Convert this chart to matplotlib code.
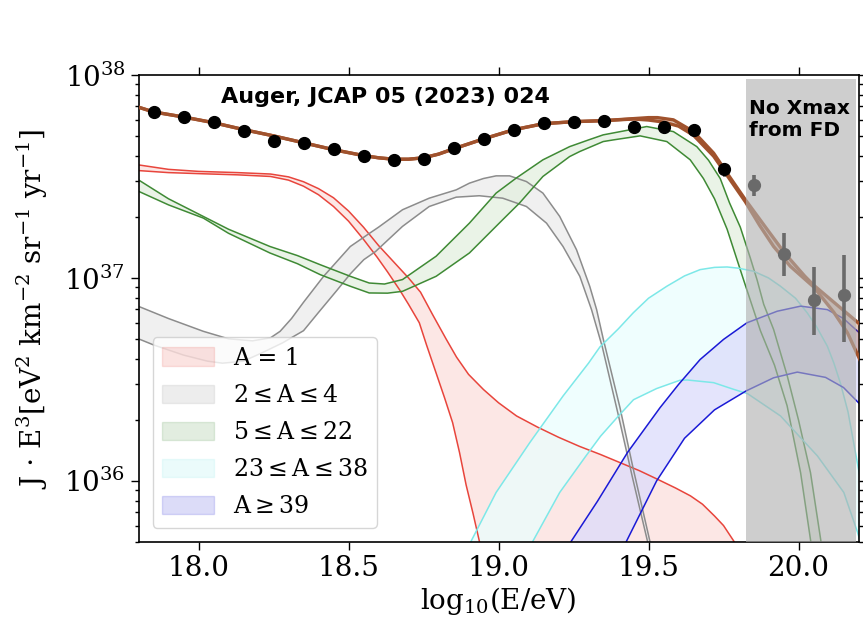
import numpy as np
import matplotlib
matplotlib.use("Agg")
import matplotlib.pyplot as plt
from matplotlib.patches import Patch

plt.rcParams["font.family"] = "DejaVu Serif"
plt.rcParams["mathtext.fontset"] = "dejavuserif"

# ---------------- measured spectrum (log10 of J*E^3) ----------------
lgE_fd = [17.85, 17.95, 18.05, 18.15, 18.25, 18.35, 18.45, 18.55, 18.65, 18.75,
          18.85, 18.95, 19.05, 19.15, 19.25, 19.35, 19.45, 19.55, 19.65, 19.75]
lgJ_fd = [37.816, 37.793, 37.767, 37.726, 37.677, 37.667, 37.634, 37.603, 37.583, 37.585,
          37.638, 37.684, 37.728, 37.764, 37.766, 37.774, 37.744, 37.744, 37.728, 37.539]
lgJ_fd_lo = [37.810, 37.787, 37.761, 37.720, 37.671, 37.660, 37.627, 37.596, 37.576, 37.577,
             37.630, 37.676, 37.720, 37.755, 37.756, 37.763, 37.731, 37.729, 37.710, 37.503]
lgJ_fd_hi = [37.822, 37.799, 37.773, 37.732, 37.683, 37.674, 37.641, 37.610, 37.590, 37.593,
             37.646, 37.692, 37.736, 37.773, 37.776, 37.785, 37.757, 37.759, 37.746, 37.561]

lgE_noxmax = [19.85, 19.95, 20.05, 20.15]
lgJ_noxmax = [37.456, 37.118, 36.892, 36.914]
lgJ_noxmax_lo = [37.406, 37.011, 36.720, 36.683]
lgJ_noxmax_hi = [37.505, 37.219, 37.052, 37.115]

# ---------------- model bands: (x, upper edge) / (x, lower edge) ----------------
p_hi_x = [17.80, 17.90, 18.00, 18.13, 18.24, 18.30, 18.35, 18.40, 18.45, 18.50, 18.55, 18.60, 18.65,
          18.70, 18.74, 18.78, 18.825, 18.86, 18.90, 18.95, 19.00, 19.06, 19.13, 19.20, 19.27,
          19.34, 19.405, 19.47, 19.53, 19.59, 19.64, 19.68, 19.72, 19.75, 19.784, 19.81]
p_hi_y = [37.557, 37.535, 37.525, 37.519, 37.512, 37.498, 37.474, 37.44, 37.395, 37.33, 37.25, 37.16, 37.08,
          37.00, 36.93, 36.82, 36.70, 36.61, 36.525, 36.45, 36.385, 36.32, 36.265, 36.215, 36.17,
          36.13, 36.09, 36.05, 36.008, 35.965, 35.926, 35.885, 35.827, 35.78, 35.704, 35.62]
p_lo_x = [17.80, 17.90, 18.02, 18.13, 18.24, 18.30, 18.35, 18.40, 18.45, 18.50, 18.55, 18.595, 18.63,
          18.67, 18.70, 18.736, 18.76, 18.79, 18.82, 18.847, 18.87, 18.892, 18.915, 18.936, 18.96]
p_lo_y = [37.529, 37.519, 37.513, 37.508, 37.50, 37.482, 37.452, 37.41, 37.352, 37.28, 37.19, 37.103, 37.03,
          36.942, 36.87, 36.779, 36.67, 36.54, 36.41, 36.287, 36.14, 35.98, 35.84, 35.704, 35.55]

he_hi_x = [17.80, 17.90, 18.016, 18.10, 18.18, 18.24, 18.272, 18.31, 18.35, 18.417, 18.506, 18.57, 18.60,
           18.68, 18.769, 18.859, 18.903, 18.95, 18.992, 19.037, 19.093, 19.148, 19.204, 19.26,
           19.304, 19.327, 19.349, 19.405, 19.449, 19.505, 19.53]
he_hi_y = [36.86, 36.80, 36.737, 36.70, 36.69, 36.705, 36.737, 36.80, 36.88, 37.008, 37.155, 37.22, 37.25,
           37.336, 37.393, 37.434, 37.467, 37.49, 37.503, 37.503, 37.475, 37.418, 37.303, 37.139,
           36.959, 36.844, 36.70, 36.36, 36.06, 35.70, 35.55]
he_lo_x = [17.80, 17.85, 17.95, 18.03, 18.08, 18.15, 18.21, 18.28, 18.35, 18.40, 18.462, 18.506,
           18.551, 18.59, 18.68, 18.769, 18.859, 18.936, 19.014, 19.093, 19.16, 19.215, 19.271,
           19.31, 19.346, 19.40, 19.446, 19.497, 19.52]
he_lo_y = [36.70, 36.67, 36.62, 36.59, 36.58, 36.59, 36.63, 36.68, 36.74, 36.83, 36.94, 37.02,
           37.09, 37.13, 37.254, 37.352, 37.398, 37.405, 37.393, 37.352, 37.27, 37.155, 37.008,
           36.844, 36.66, 36.32, 36.02, 35.70, 35.55]

cno_hi_x = [17.80, 17.90, 18.016, 18.10, 18.238, 18.33, 18.406, 18.506, 18.569, 18.62, 18.68, 18.792,
            18.903, 18.992, 19.059, 19.148, 19.237, 19.30, 19.349, 19.438, 19.494, 19.583, 19.661,
            19.70, 19.739, 19.77, 19.806, 19.839, 19.862, 19.884, 19.917, 19.962, 20.00, 20.04,
            20.074, 20.09]
cno_hi_y = [37.483, 37.39, 37.303, 37.24, 37.155, 37.11, 37.065, 37.008, 36.975, 36.97, 36.992, 37.107,
            37.27, 37.418, 37.492, 37.582, 37.647, 37.68, 37.705, 37.73, 37.746, 37.721, 37.647,
            37.58, 37.49, 37.37, 37.25, 37.10, 36.99, 36.87, 36.746, 36.52, 36.30, 36.04,
            35.71, 35.55]
cno_lo_x = [17.80, 17.90, 18.016, 18.10, 18.238, 18.33, 18.406, 18.506, 18.569, 18.63, 18.68, 18.792,
            18.903, 19.014, 19.07, 19.148, 19.237, 19.271, 19.349, 19.382, 19.472, 19.561, 19.639,
            19.683, 19.72, 19.762, 19.817, 19.873, 19.92, 19.962, 20.007, 20.04, 20.055]
cno_lo_y = [37.427, 37.36, 37.295, 37.22, 37.123, 37.07, 37.016, 36.959, 36.926, 36.925, 36.934, 37.008,
            37.123, 37.287, 37.369, 37.50, 37.598, 37.623, 37.672, 37.68, 37.70, 37.672, 37.582,
            37.49, 37.39, 37.24, 36.99, 36.74, 36.57, 36.37, 36.04, 35.71, 35.55]

si_hi_x = [18.88, 18.909, 18.992, 19.104, 19.215, 19.30, 19.338, 19.40, 19.449, 19.50, 19.561, 19.62,
           19.672, 19.72, 19.762, 19.80, 19.85, 19.90, 19.94, 19.99, 20.029, 20.06, 20.096, 20.118,
           20.14, 20.165, 20.196, 20.21]
si_hi_y = [35.60, 35.704, 35.943, 36.188, 36.418, 36.58, 36.66, 36.75, 36.828, 36.90, 36.959, 37.01,
           37.041, 37.052, 37.054, 37.048, 37.033, 37.00, 36.959, 36.90, 36.828, 36.76, 36.664, 36.58,
           36.48, 36.34, 36.09, 35.98]
si_lo_x = [19.09, 19.115, 19.204, 19.29, 19.34, 19.40, 19.45, 19.527, 19.605, 19.63, 19.717, 19.784,
           19.83, 19.94, 20.063, 20.151, 20.196, 20.21]
si_lo_y = [35.60, 35.704, 35.943, 36.12, 36.22, 36.32, 36.40, 36.455, 36.496, 36.497, 36.484, 36.451,
           36.43, 36.32, 36.123, 35.943, 35.75, 35.68]

fe_hi_x = [19.22, 19.243, 19.33, 19.43, 19.538, 19.60, 19.672, 19.717, 19.75, 19.828, 19.929, 20.007,
           20.096, 20.15, 20.21]
fe_hi_y = [35.65, 35.704, 35.90, 36.14, 36.36, 36.475, 36.598, 36.655, 36.697, 36.779, 36.836, 36.861,
           36.844, 36.80, 36.72]
fe_lo_x = [19.40, 19.427, 19.527, 19.62, 19.72, 19.825, 19.917, 19.996, 20.09, 20.15, 20.21]
fe_lo_y = [35.62, 35.704, 36.0, 36.21, 36.35, 36.443, 36.508, 36.536, 36.51, 36.46, 36.37]

tot_hi_x = [17.79, 17.85, 17.95, 18.05, 18.15, 18.25, 18.35, 18.45, 18.55, 18.60, 18.65, 18.70, 18.75,
            18.80, 18.85, 18.95, 19.05, 19.15, 19.25, 19.35, 19.45, 19.50, 19.53, 19.583, 19.65,
            19.717, 19.762, 19.823, 19.895, 19.955, 20.02, 20.05, 20.118, 20.21]
tot_hi_y = [37.846, 37.818, 37.793, 37.765, 37.731, 37.70, 37.666, 37.632, 37.603, 37.592, 37.585,
            37.585, 37.592, 37.61, 37.636, 37.685, 37.730, 37.760, 37.770, 37.775, 37.785, 37.79,
            37.79, 37.779, 37.721, 37.615, 37.516, 37.385, 37.24, 37.12, 37.01, 36.965, 36.88, 36.765]
tot_lo_x = [17.79, 17.85, 17.95, 18.05, 18.15, 18.25, 18.35, 18.45, 18.55, 18.60, 18.65, 18.70, 18.75,
            18.80, 18.85, 18.95, 19.05, 19.15, 19.25, 19.35, 19.45, 19.50, 19.55, 19.60, 19.65,
            19.717, 19.762, 19.823, 19.87, 19.917, 19.973, 20.051, 20.118, 20.163, 20.21]
tot_lo_y = [37.846, 37.818, 37.793, 37.765, 37.731, 37.70, 37.666, 37.632, 37.603, 37.592, 37.585,
            37.585, 37.592, 37.61, 37.636, 37.685, 37.730, 37.760, 37.770, 37.775, 37.783, 37.778,
            37.768, 37.748, 37.703, 37.60, 37.505, 37.375, 37.26, 37.155, 37.057, 36.955, 36.83,
            36.73, 36.58]

labels = [r"A = 1", r"2$\leq$A$\leq$4", r"5$\leq$A$\leq$22", r"23$\leq$A$\leq$38", r"A$\geq$39"]
line_colors = ["#e8453c", "#8c8c8c", "#3f8a35", "#7de8e8", "#1a1ad6"]
fill_colors = ["#fbe0dd", "#ececec", "#e3efdf", "#eafefe", "#dcdcfb"]

fd_limit = (19.825, 20.19)   # energies without Xmax from FD


def pw(v):
    return 10.0 ** np.asarray(v)


fig = plt.figure(figsize=(8.63, 6.27), dpi=100)
ax = fig.add_axes([0.1605, 0.1356, 0.8343, 0.7448])

bands = [(p_hi_x, p_hi_y, p_lo_x, p_lo_y),
         (he_hi_x, he_hi_y, he_lo_x, he_lo_y),
         (cno_hi_x, cno_hi_y, cno_lo_x, cno_lo_y),
         (si_hi_x, si_hi_y, si_lo_x, si_lo_y),
         (fe_hi_x, fe_hi_y, fe_lo_x, fe_lo_y)]

for (hx, hy, lx, ly), lc, fc in zip(bands, line_colors, fill_colors):
    px = np.concatenate([hx, lx[::-1]])
    py = np.concatenate([hy, ly[::-1]])
    ax.fill(px, pw(py), color=fc, alpha=0.75, lw=0, zorder=1)
    ax.plot(hx, pw(hy), color=lc, lw=1.1, zorder=2)
    ax.plot(lx, pw(ly), color=lc, lw=1.1, zorder=2)

# total model
tx = np.concatenate([tot_hi_x, tot_lo_x[::-1]])
ty = np.concatenate([tot_hi_y, tot_lo_y[::-1]])
ax.fill(tx, pw(ty), color="sienna", alpha=0.3, lw=0, zorder=3)
ax.plot(tot_hi_x, pw(tot_hi_y), color="sienna", lw=2.4, zorder=3)
ax.plot(tot_lo_x, pw(tot_lo_y), color="sienna", lw=2.4, zorder=3)

# measured points
yf = pw(lgJ_fd)
ax.errorbar(lgE_fd, yf, yerr=[yf - pw(lgJ_fd_lo), pw(lgJ_fd_hi) - yf], fmt="o",
            color="black", ms=8.5, elinewidth=2.2, capsize=0, zorder=6)

# region without FD Xmax
ax.axvspan(fd_limit[0], fd_limit[1], ymin=0, ymax=0.991, color="#b0b0b0", alpha=0.62,
           lw=0, zorder=4)

yn = pw(lgJ_noxmax)
ax.errorbar(lgE_noxmax, yn, yerr=[yn - pw(lgJ_noxmax_lo), pw(lgJ_noxmax_hi) - yn], fmt="o",
            color="#6a6a6a", ms=8.5, elinewidth=2.6, capsize=0, zorder=6)

ax.set_yscale("log")
ax.set_xlim(17.8, 20.2)
ax.set_ylim(5e35, 1e38)
ax.set_xticks([18.0, 18.5, 19.0, 19.5, 20.0])
ax.tick_params(which="both", top=True, right=True, direction="out", width=1.0)
ax.tick_params(which="major", length=6, labelsize=20)
ax.tick_params(which="minor", length=3)
for s in ax.spines.values():
    s.set_linewidth(1.2)

ax.set_xlabel(r"log$_{10}$(E/eV)", fontsize=20, labelpad=2)
ax.set_ylabel(r"J $\cdot$ E$^3$[eV$^2$ km$^{-2}$ sr$^{-1}$ yr$^{-1}$]", fontsize=20, labelpad=10)

ax.text(0.114, 0.953, "Auger, JCAP 05 (2023) 024", transform=ax.transAxes,
        fontsize=16, fontweight="bold", family="DejaVu Sans", va="center", zorder=7)
ax.text(0.848, 0.948, "No Xmax\nfrom FD", transform=ax.transAxes, fontsize=14.5,
        fontweight="bold", family="DejaVu Sans", va="top", linespacing=1.2, zorder=7)

handles = [Patch(facecolor=lc, edgecolor=lc, alpha=0.15) for lc in line_colors]
ax.legend(handles, labels, loc="lower left", fontsize=17, handlelength=2.2, handleheight=0.8,
          labelspacing=0.6, borderaxespad=0.6, framealpha=0.8, edgecolor="#cccccc")

fig.savefig("out.png", dpi=100)
